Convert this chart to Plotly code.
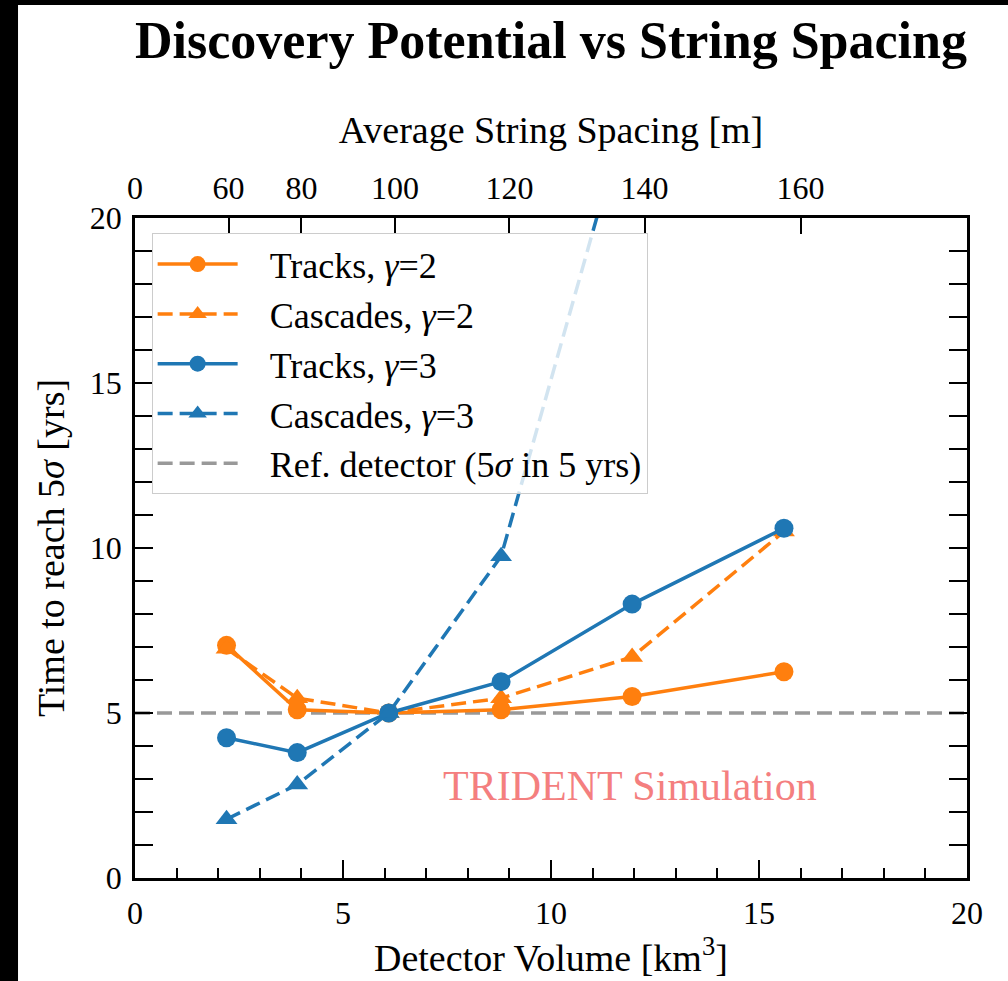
import plotly.graph_objects as go

# detector volume [km^3] for each string spacing
volume = [2.2, 3.9, 6.1, 8.8, 11.95, 15.6]

tracks_g2 = [7.05, 5.1, 5.0, 5.1, 5.5, 6.25]
cascades_g2 = [6.95, 5.45, 5.0, 5.45, 6.7, 10.5]
tracks_g3 = [4.25, 3.8, 5.0, 5.95, 8.3, 10.6]
cascades_g3_x = [2.2, 3.9, 6.1, 8.8, 11.95]
cascades_g3 = [1.78, 2.83, 5.0, 9.75, 23.8]

# top axis: string spacing [m], placed at spacing^2 / 1600
spacing_ticks = [0, 60, 80, 100, 120, 140, 160]
spacing_pos = [s * s / 1600 for s in spacing_ticks]

ref_time = 5

ORANGE = '#ff7f0e'
BLUE = '#1f77b4'
FONT = 'Liberation Serif'
SP = '\u00a0\u00a0\u00a0'

fig = go.Figure()

fig.add_trace(go.Scatter(
    x=[0, 20], y=[ref_time, ref_time], mode='lines',
    name=SP + 'Ref. detector (5<i>σ</i> in 5 yrs)',
    line=dict(color='#999999', width=3.5, dash='15px,7px'),
    legendrank=5, legendgroup='e'
))

series = [
    ('Tracks, <i>γ</i>=2', volume, tracks_g2, ORANGE, 'solid', 'circle', 'a'),
    ('Cascades, <i>γ</i>=2', volume, cascades_g2, ORANGE, '15px,7px', 'triangle-up', 'b'),
    ('Tracks, <i>γ</i>=3', volume, tracks_g3, BLUE, 'solid', 'circle', 'c'),
    ('Cascades, <i>γ</i>=3', cascades_g3_x, cascades_g3, BLUE, '15px,7px', 'triangle-up', 'd'),
]
for i, (name, xs, ys, col, dash, sym, grp) in enumerate(series):
    fig.add_trace(go.Scatter(
        x=xs, y=ys, mode='lines+markers', name=SP + name,
        line=dict(color=col, width=3.5, dash=dash),
        marker=dict(color=col, size=19, symbol=sym),
        legendrank=i + 1, legendgroup=grp
    ))

# invisible trace to carry the top axis
fig.add_trace(go.Scatter(x=[0, 20], y=[0, 0], xaxis='x2', mode='markers',
                         marker=dict(opacity=0), showlegend=False, hoverinfo='skip'))

fig.add_annotation(x=11.9, y=2.8, text='TRIDENT Simulation', showarrow=False,
                   font=dict(family=FONT, size=42, color='#f47f7f'))

tickfont = dict(family=FONT, size=32, color='black')
titlefont = dict(family=FONT, size=38, color='black')

# x axis title placed by hand
fig.add_annotation(x=0.5, y=-0.116, xref='paper', yref='paper', yanchor='middle',
                   text='Detector Volume [km<sup>3</sup>]', showarrow=False, font=titlefont)

# black strip left/top like the source screenshot
fig.add_shape(type='rect', xref='paper', yref='paper', x0=-0.1406, x1=1.2,
              y0=-0.3, y1=1.3227, fillcolor='white', line_width=0, layer='below')

fig.update_layout(
    width=1008, height=981,
    paper_bgcolor='black', plot_bgcolor='white',
    margin=dict(l=135, r=41, t=218, b=103),
    title=dict(text='<b>Discovery Potential vs String Spacing</b>',
               x=0.5, xref='paper', y=1 - 40 / 981, yref='container',
               yanchor='middle', font=dict(family=FONT, size=52, color='black')),
    showlegend=True,
    legend=dict(x=0.02, y=0.977, xanchor='left', yanchor='top',
                bgcolor='rgba(255,255,255,0.8)', bordercolor='#cccccc', borderwidth=1,
                font=dict(family=FONT, size=36, color='black'),
                itemwidth=80, tracegroupgap=0),
    xaxis=dict(range=[0, 20], tickvals=[0, 5, 10, 15, 20], showgrid=False, zeroline=False,
               showline=True, linecolor='black', linewidth=2.5, mirror=True,
               ticks='inside', ticklen=18, tickwidth=2, tickcolor='black',
               minor=dict(ticks='inside', dtick=1, ticklen=10, tickwidth=1.5, tickcolor='black'),
               tickfont=tickfont, ticklabelstandoff=5),
    xaxis2=dict(range=[0, 20], overlaying='x', side='top', showgrid=False, zeroline=False,
                tickvals=spacing_pos, ticktext=[str(s) for s in spacing_ticks],
                ticks='inside', ticklen=16, tickwidth=2, tickcolor='black',
                tickfont=tickfont, ticklabelstandoff=12,
                title=dict(text='Average String Spacing [m]', font=titlefont, standoff=14)),
    yaxis=dict(range=[0, 20], tickvals=[0, 5, 10, 15, 20], showgrid=False, zeroline=False,
               showline=True, linecolor='black', linewidth=2.5, mirror='allticks',
               ticks='inside', ticklen=18, tickwidth=2, tickcolor='black',
               minor=dict(ticks='inside', dtick=1, ticklen=10, tickwidth=1.5, tickcolor='black'),
               tickfont=tickfont, ticklabelstandoff=4,
               title=dict(text='Time to reach 5<i>σ</i> [yrs]', font=titlefont, standoff=14)),
)

fig.write_html('out.html', config={'displayModeBar': False},
               post_script="document.body.style.margin='0';")
